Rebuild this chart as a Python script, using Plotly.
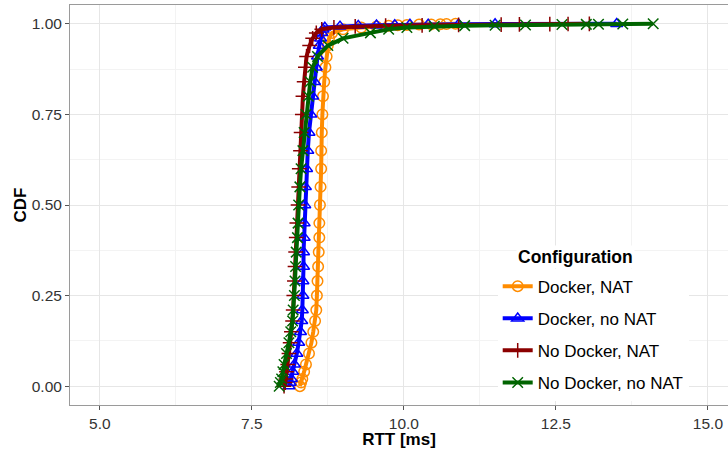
import plotly.graph_objects as go

# cumulative levels shared by all four series
cdf_levels = [0.00, 0.01, 0.02, 0.04, 0.06, 0.09, 0.12, 0.15, 0.18, 0.21,
              0.25, 0.29, 0.33, 0.37, 0.41, 0.45, 0.50, 0.55, 0.60, 0.65,
              0.70, 0.75, 0.80, 0.84, 0.88, 0.91, 0.94, 0.96, 0.975, 0.985,
              0.99, 0.993, 0.995, 0.996, 0.997, 0.998, 0.9985, 0.999, 0.9995, 1.0]

# RTT [ms] at each level
rtt_docker_nat = [8.29, 8.31, 8.33, 8.36, 8.39, 8.44, 8.48, 8.51, 8.54, 8.56,
                  8.57, 8.58, 8.59, 8.60, 8.61, 8.61, 8.62, 8.63, 8.64, 8.64,
                  8.65, 8.66, 8.67, 8.69, 8.71, 8.73, 8.75, 8.77, 8.82, 9.00,
                  9.30, 9.55, 9.75, 9.90, 10.05, 10.25, 10.45, 10.6, 10.7, 10.85]
rtt_docker_nonat = [8.11, 8.13, 8.15, 8.17, 8.20, 8.24, 8.27, 8.30, 8.32, 8.33,
                    8.34, 8.34, 8.35, 8.35, 8.36, 8.36, 8.37, 8.38, 8.40, 8.42,
                    8.44, 8.47, 8.50, 8.53, 8.56, 8.58, 8.61, 8.63, 8.65, 8.67,
                    8.70, 8.95, 9.25, 9.55, 9.85, 10.1, 10.4, 10.9, 11.5, 13.5]
rtt_nodocker_nat = [8.03, 8.05, 8.06, 8.07, 8.09, 8.11, 8.13, 8.15, 8.17, 8.18,
                    8.19, 8.20, 8.21, 8.22, 8.23, 8.24, 8.26, 8.27, 8.28, 8.30,
                    8.31, 8.33, 8.34, 8.36, 8.38, 8.40, 8.45, 8.50, 8.56, 8.65,
                    8.85, 9.2, 9.7, 10.3, 10.9, 11.6, 11.9, 12.4, 12.7, 13.05]
rtt_nodocker_nonat = [7.95, 7.97, 7.99, 8.01, 8.03, 8.07, 8.11, 8.14, 8.17, 8.18,
                      8.20, 8.21, 8.22, 8.23, 8.25, 8.26, 8.27, 8.29, 8.31, 8.34,
                      8.36, 8.39, 8.43, 8.46, 8.50, 8.58, 8.75, 9.00, 9.45, 9.75,
                      10.05, 10.5, 11.0, 11.5, 12.0, 12.6, 13.0, 13.2, 13.6, 14.1]

names = ["Docker, NAT", "Docker, no NAT", "No Docker, NAT", "No Docker, no NAT"]
series = [rtt_docker_nat, rtt_docker_nonat, rtt_nodocker_nat, rtt_nodocker_nonat]
colors = ["#FF8C00", "#0000FF", "#8B0000", "#006400"]
symbols = ["circle-open", "triangle-up-open", "cross-thin-open", "x-thin-open"]

FONT = "Liberation Sans, Arial"

fig = go.Figure()
for i, (name, rtt) in enumerate(zip(names, series)):
    fig.add_trace(go.Scatter(
        x=rtt, y=cdf_levels, name=name, mode="lines+markers",
        legendgroup=name,
        line=dict(color=colors[i], width=4),
        marker=dict(symbol=symbols[i], size=10.5, color=colors[i],
                    line=dict(color=colors[i], width=1.5)),
    ))

axis_common = dict(
    showline=True, linecolor="#9a9a9a", linewidth=1, mirror=True,
    ticks="outside", ticklen=4, tickcolor="#555", zeroline=False,
    gridcolor="#e6e6e6", gridwidth=1,
    tickfont=dict(family=FONT, size=15.5, color="#333"),
    title_font=dict(family=FONT, size=17, color="black"),
)
fig.update_xaxes(axis_common, range=[4.51, 15.33], tickvals=[5, 7.5, 10, 12.5, 15],
                 ticktext=["5.0", "7.5", "10.0", "12.5", "15.0"],
                 title_text="<b>RTT [ms]</b>", title_standoff=0,
                 minor=dict(showgrid=True, tickvals=[6.25, 8.75, 11.25, 13.75], gridcolor="#f3f3f3"))
fig.update_yaxes(axis_common, range=[-0.052, 1.052], tickvals=[0, 0.25, 0.5, 0.75, 1.0],
                 ticktext=["0.00", "0.25", "0.50", "0.75", "1.00"],
                 title_text="<b>CDF</b>", title_standoff=0,
                 minor=dict(showgrid=True, tickvals=[0.125, 0.375, 0.625, 0.875], gridcolor="#f3f3f3"))

fig.add_annotation(text="<b>Configuration</b>", xref="paper", yref="paper",
                   x=0.678, y=0.37, xanchor="left", yanchor="middle", showarrow=False,
                   bgcolor="white", font=dict(family=FONT, size=17.5, color="black"))

fig.update_layout(
    width=728, height=449,
    margin=dict(l=70, r=0, t=5, b=44),
    paper_bgcolor="white", plot_bgcolor="white",
    font=dict(family=FONT, size=17, color="black"),
    legend=dict(
        x=0.650, y=0.341, xanchor="left", yanchor="top",
        bgcolor="white", borderwidth=0,
        font=dict(size=17), tracegroupgap=7, itemwidth=30,
    ),
    showlegend=True,
)

fig.write_html("out.html", config={"displayModeBar": False},
               post_script="document.body.style.margin='0px';")
